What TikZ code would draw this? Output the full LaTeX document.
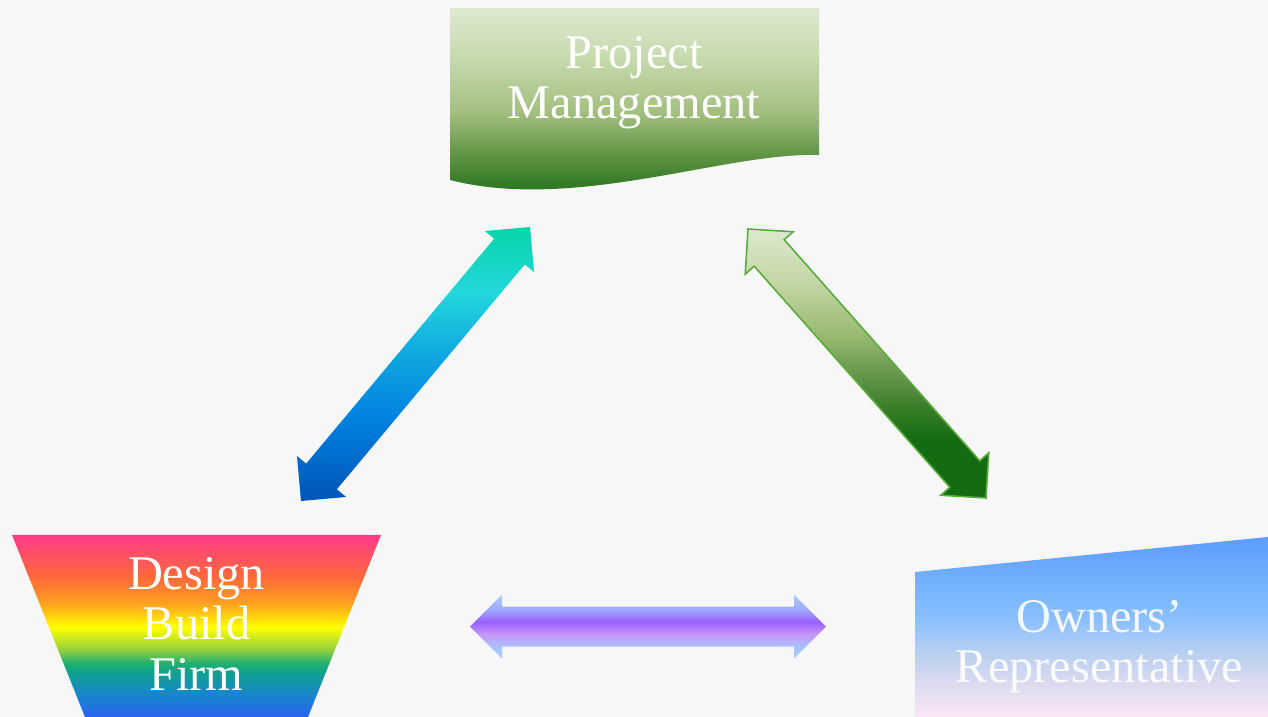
\documentclass[tikz,border=0pt]{standalone}
\usepackage{xcolor}
\usepackage{fontspec}
\setmainfont{Liberation Serif}
\usepackage{tikz}
\usetikzlibrary{calc}

\definecolor{bgcolor}{HTML}{F7F7F7}
\definecolor{greenline}{HTML}{5AAB3E}
% project management
\definecolor{pmA}{HTML}{106810}
\definecolor{pmB}{HTML}{3A7E2A}
\definecolor{pmC}{HTML}{6A9A4C}
\definecolor{pmD}{HTML}{A4BF80}
\definecolor{pmE}{HTML}{C8DBB0}
\definecolor{pmF}{HTML}{DEE9D0}
% design build firm
\definecolor{dbfA}{HTML}{2A64F0}
\definecolor{dbfB}{HTML}{1888C8}
\definecolor{dbfC}{HTML}{10A090}
\definecolor{dbfD}{HTML}{20B070}
\definecolor{dbfE}{HTML}{90D040}
\definecolor{dbfF}{HTML}{FFFF00}
\definecolor{dbfG}{HTML}{FFA020}
\definecolor{dbfH}{HTML}{FF6A38}
\definecolor{dbfI}{HTML}{FF3A8A}
% owners representative
\definecolor{repA}{HTML}{FAE6F6}
\definecolor{repB}{HTML}{E0DCF0}
\definecolor{repC}{HTML}{B8D0F0}
\definecolor{repD}{HTML}{8CC0FF}
\definecolor{repE}{HTML}{74B4FF}
\definecolor{repF}{HTML}{5C9CFF}
% arrows
\definecolor{baA}{HTML}{0054B4}
\definecolor{baB}{HTML}{0080E0}
\definecolor{baC}{HTML}{10A8E0}
\definecolor{baD}{HTML}{22D8DC}
\definecolor{baE}{HTML}{08D4A8}
\definecolor{gaA}{HTML}{146C12}
\definecolor{gaC}{HTML}{6A9A50}
\definecolor{gaD}{HTML}{98B870}
\definecolor{gaE}{HTML}{C0D4A0}
\definecolor{paA}{HTML}{A8D0FF}
\definecolor{paB}{HTML}{A8C0FF}
\definecolor{paC}{HTML}{C898F8}
\definecolor{paD}{HTML}{9860FF}
\definecolor{paE}{HTML}{A0A8FF}

\pgfdeclareverticalshading{pmshade}{100bp}{color(0bp)=(pmA); color(25bp)=(pmA); color(33bp)=(pmB); color(40.5bp)=(pmC); color(49.6bp)=(pmD); color(63.4bp)=(pmE); color(75bp)=(pmF); color(100bp)=(pmF)}
\pgfdeclareverticalshading{dbfshade}{100bp}{color(0bp)=(dbfA); color(25bp)=(dbfA); color(31.6bp)=(dbfB); color(37.1bp)=(dbfC); color(39.8bp)=(dbfD); color(43.4bp)=(dbfE); color(49.7bp)=(dbfF); color(56.3bp)=(dbfG); color(63.2bp)=(dbfH); color(75bp)=(dbfI); color(100bp)=(dbfI)}
\pgfdeclareverticalshading{repshade}{100bp}{color(0bp)=(repA); color(25bp)=(repA); color(33.3bp)=(repB); color(42.8bp)=(repC); color(51.9bp)=(repD); color(61.1bp)=(repE); color(75bp)=(repF); color(100bp)=(repF)}
\pgfdeclareverticalshading{bashade}{100bp}{color(0bp)=(baA); color(25bp)=(baA); color(39.8bp)=(baB); color(52bp)=(baC); color(63bp)=(baD); color(75bp)=(baE); color(100bp)=(baE)}
\pgfdeclareverticalshading{gashade}{100bp}{color(0bp)=(gaA); color(25bp)=(gaA); color(35.8bp)=(gaA); color(41.9bp)=(pmB); color(48.8bp)=(gaC); color(54.9bp)=(gaD); color(64.2bp)=(gaE); color(75bp)=(pmF); color(100bp)=(pmF)}
\pgfdeclareverticalshading{pashade}{100bp}{color(0bp)=(paA); color(25bp)=(paA); color(35.2bp)=(paB); color(43.75bp)=(paC); color(53.9bp)=(paD); color(63.3bp)=(paE); color(75bp)=(paA); color(100bp)=(paA)}

\tikzset{
  boxtext/.style={text=white, align=center, inner sep=0pt,
    font=\fontsize{27.5pt}{28.5pt}\selectfont},
}

% double headed block arrow between two coordinates
\newcommand{\blockarrow}[3]{%
  \coordinate (ha) at ($(#2)!0.64cm!(#3)$);%
  \coordinate (hb) at ($(#3)!0.64cm!(#2)$);%
  \path[#1] (#2) -- ($(ha)!0.64cm!90:(#3)$) -- ($(ha)!0.4cm!90:(#3)$)
    -- ($(hb)!0.4cm!-90:(#2)$) -- ($(hb)!0.64cm!-90:(#2)$) -- (#3)
    -- ($(hb)!0.64cm!90:(#2)$) -- ($(hb)!0.4cm!90:(#2)$)
    -- ($(ha)!0.4cm!-90:(#3)$) -- ($(ha)!0.64cm!-90:(#3)$) -- cycle;}

\begin{document}
\begin{tikzpicture}
\fill[bgcolor] (0,0) rectangle (25.36,14.34);
\useasboundingbox (0,0) rectangle (25.36,14.34);

% boxes
\shade[shading=pmshade] (9.0,14.18) -- (16.38,14.18) -- (16.38,11.24)
  .. controls (14.5,11.3) and (11.5,10.1) .. (9.0,10.74) -- cycle;
\shade[shading=dbfshade] (0.24,3.64) -- (7.62,3.64) -- (6.16,0) -- (1.7,0) -- cycle;
\shade[shading=repshade] (18.3,2.9) -- (25.36,3.6) -- (25.36,0) -- (18.3,0) -- cycle;

\node[boxtext] (pm) at (12.68,12.68) {Project\\Management};
\node[boxtext] (dbf) at (3.93,1.86) {Design\\Build\\Firm};
\node[boxtext, text opacity=0.9] (rep) at (21.99,1.40) {Owners’\\Representative};

% arrow ends
\coordinate (dbf-end) at (6.02,4.32);
\coordinate (pm-left) at (10.6,9.8);
\coordinate (pm-right) at (14.96,9.76);
\coordinate (rep-end) at (19.72,4.38);
\coordinate (dbf-side) at (9.4,1.806);
\coordinate (rep-side) at (16.52,1.806);

\blockarrow{shade, shading=bashade}{dbf-end}{pm-left}
\blockarrow{shade, shading=gashade, draw=greenline, line width=0.9pt}{pm-right}{rep-end}
\blockarrow{shade, shading=pashade}{dbf-side}{rep-side}
\end{tikzpicture}
\end{document}
